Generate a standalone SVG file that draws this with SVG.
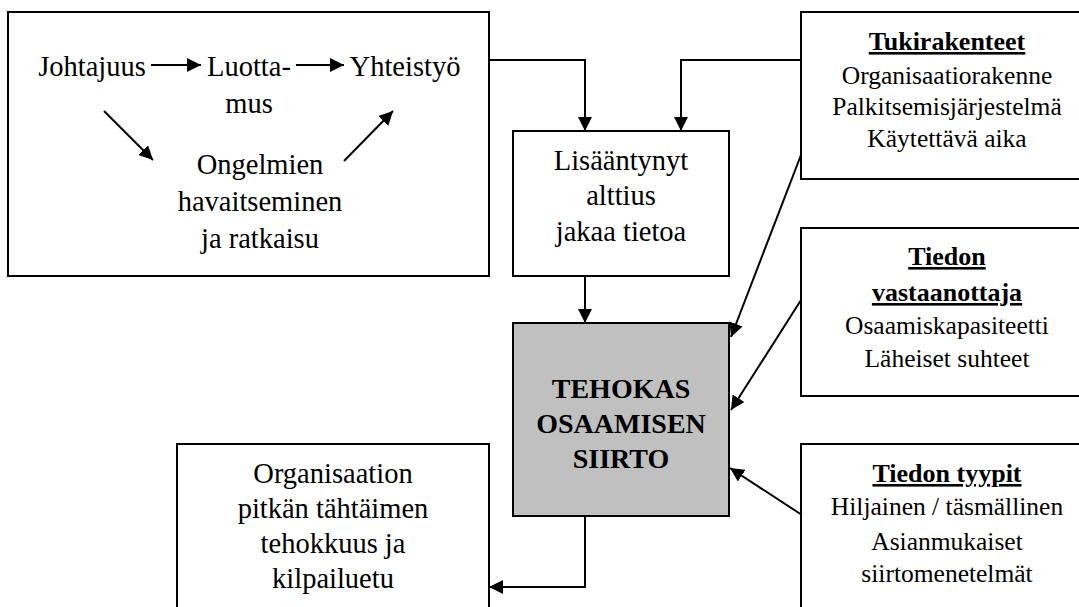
<svg xmlns="http://www.w3.org/2000/svg" width="1079" height="607" viewBox="0 0 1079 607" font-family="'Liberation Serif', 'DejaVu Serif', serif">
  <style>
    .box { fill: #ffffff; stroke: #000000; stroke-width: 2; }
    .core { fill: #c0c0c0; stroke: #000000; stroke-width: 2; }
    .t { font-family: 'Liberation Serif', 'Tinos', 'DejaVu Serif', serif; fill: #000000; text-anchor: middle; }
    .big { font-size: 28.5px; }
    .side { font-size: 25.5px; }
    .head { font-size: 26px; font-weight: bold; text-decoration: underline; }
    .bold { font-size: 28px; font-weight: bold; }
    .link { fill: none; stroke: #000000; stroke-width: 2; marker-end: url(#arrow); }
  </style>
  <defs>
    <marker id="arrow" markerUnits="userSpaceOnUse" markerWidth="15" markerHeight="14" refX="14" refY="7" orient="auto">
      <path d="M0,0 L14,7 L0,14 z" fill="#000000"/>
    </marker>
  </defs>

  <!-- leadership / trust / cooperation cluster -->
  <g id="node-yhteistyo">
    <rect class="box" x="8" y="12" width="481" height="264"/>
    <text class="t big" x="92" y="76">Johtajuus</text>
    <text class="t big" x="249" y="76">Luotta-</text>
    <text class="t big" x="249" y="113">mus</text>
    <text class="t big" x="405" y="76">Yhteistyö</text>
    <text class="t big" x="260" y="174">Ongelmien</text>
    <text class="t big" x="260" y="211">havaitseminen</text>
    <text class="t big" x="260" y="248">ja ratkaisu</text>
  </g>

  <g id="node-alttius">
    <rect class="box" x="513" y="131" width="216" height="145"/>
    <text class="t big" x="621" y="170">Lisääntynyt</text>
    <text class="t big" x="621" y="205">alttius</text>
    <text class="t big" x="621" y="241">jakaa tietoa</text>
  </g>

  <g id="node-siirto">
    <rect class="core" x="513" y="323" width="216" height="193"/>
    <text class="t bold" x="621" y="398">TEHOKAS</text>
    <text class="t bold" x="621" y="433">OSAAMISEN</text>
    <text class="t bold" x="621" y="468">SIIRTO</text>
  </g>

  <g id="node-tulos">
    <rect class="box" x="177" y="444" width="312" height="180"/>
    <text class="t big" x="333" y="483">Organisaation</text>
    <text class="t big" x="333" y="518">pitkän tähtäimen</text>
    <text class="t big" x="333" y="553">tehokkuus ja</text>
    <text class="t big" x="333" y="588">kilpailuetu</text>
  </g>

  <g id="node-tukirakenteet">
    <rect class="box" x="801" y="12" width="300" height="167"/>
    <text class="t head" x="947" y="50">Tukirakenteet</text>
    <text class="t side" x="947" y="84">Organisaatiorakenne</text>
    <text class="t side" x="947" y="115">Palkitsemisjärjestelmä</text>
    <text class="t side" x="947" y="147">Käytettävä aika</text>
  </g>

  <g id="node-vastaanottaja">
    <rect class="box" x="801" y="228" width="300" height="168"/>
    <text class="t head" x="947" y="265">Tiedon</text>
    <text class="t head" x="947" y="301">vastaanottaja</text>
    <text class="t side" x="947" y="334">Osaamiskapasiteetti</text>
    <text class="t side" x="947" y="367">Läheiset suhteet</text>
  </g>

  <g id="node-tyypit">
    <rect class="box" x="801" y="444" width="300" height="180"/>
    <text class="t head" x="947" y="482">Tiedon tyypit</text>
    <text class="t side" x="947" y="515">Hiljainen / täsmällinen</text>
    <text class="t side" x="947" y="550">Asianmukaiset</text>
    <text class="t side" x="947" y="582">siirtomenetelmät</text>
  </g>

  <g id="connectors">
    <!-- inside the cluster -->
    <line class="link" x1="151" y1="65" x2="201" y2="65"/>
    <line class="link" x1="296" y1="65" x2="344" y2="65"/>
    <line class="link" x1="104" y1="111" x2="153" y2="160"/>
    <line class="link" x1="344" y1="161" x2="393" y2="111"/>
    <!-- into the willingness box -->
    <polyline class="link" points="489,60 585,60 585,131"/>
    <polyline class="link" points="801,60 681,60 681,131"/>
    <line class="link" x1="585" y1="276" x2="585" y2="323"/>
    <!-- factors acting on the transfer -->
    <line class="link" x1="801" y1="155" x2="731" y2="337"/>
    <line class="link" x1="801" y1="300" x2="731" y2="410"/>
    <line class="link" x1="802" y1="515" x2="730" y2="468"/>
    <!-- outcome -->
    <polyline class="link" points="585,516 585,587 489,587"/>
  </g>
</svg>
